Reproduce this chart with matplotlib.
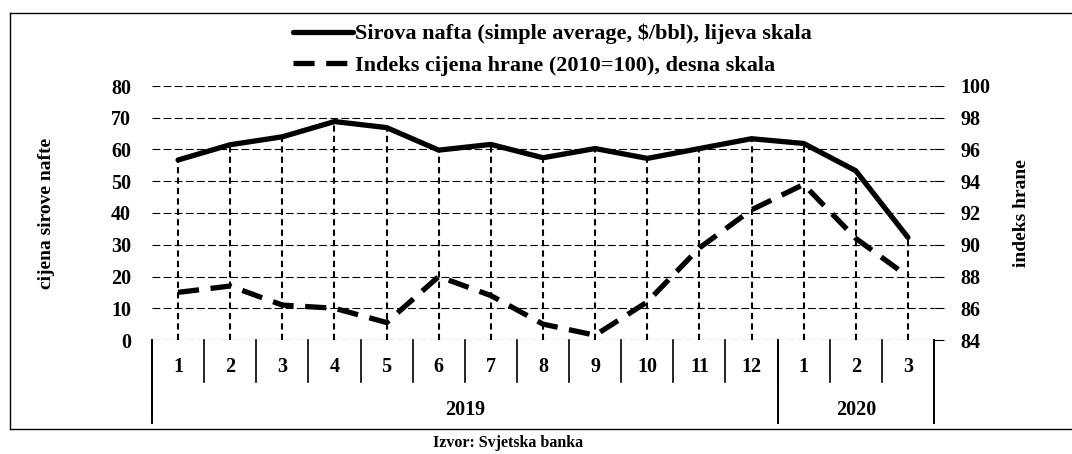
import matplotlib
matplotlib.use('Agg')
import matplotlib.pyplot as plt
from matplotlib.lines import Line2D

plt.rcParams['font.family'] = ['Liberation Serif', 'DejaVu Serif']

months = ['1', '2', '3', '4', '5', '6', '7', '8', '9', '10', '11', '12', '1', '2', '3']
years = ['2019', '2020']
year_len = [12, 3]

# crude oil, $/bbl (left scale)
oil = [56.7, 61.5, 64.0, 68.8, 66.9, 59.8, 61.6, 57.4, 60.3, 57.2, 60.3, 63.4, 61.9, 53.3, 32.3]
# food price index, 2010=100 (right scale)
food = [87.0, 87.4, 86.2, 86.0, 85.1, 88.0, 86.8, 85.0, 84.3, 86.4, 89.8, 92.2, 93.8, 90.4, 88.0]

oil_label = 'Sirova nafta (simple average, $/bbl), lijeva skala'
food_label = 'Indeks cijena hrane (2010=100), desna skala'

W, H = 1072, 454
fig = plt.figure(figsize=(W / 100, H / 100), dpi=100)
ax = fig.add_axes([152 / W, 1 - 340 / H, (934 - 152) / W, 254 / H])
ax2 = ax.twinx()

x = list(range(len(months)))
ax.set_xlim(-0.5, len(months) - 0.5)
ax.set_ylim(0, 80)
ax2.set_ylim(84, 100)
ax.set_yticks(range(0, 81, 10))
ax2.set_yticks(range(84, 101, 2))

grid_ls = (0, (7, 3))
for v in range(0, 81, 10):
    ax.axhline(v, color='black', lw=0.8, ls=grid_ls, zorder=1)

# drop lines from the oil points to the axis
ax.vlines(x, 0, oil, colors='black', lw=1.5, linestyles=(0, (3, 2)), zorder=2)

l1, = ax.plot(x, oil, color='black', lw=3.8, solid_capstyle='round', zorder=4)
l2, = ax2.plot(x, food, color='black', lw=3.8, ls=(0, (4, 2.2)), zorder=4)

for a in (ax, ax2):
    for s in a.spines.values():
        s.set_visible(False)
    a.set_xticks([])

tick_font = dict(fontsize=14.5, fontweight='bold')
ax.tick_params(axis='y', length=0, pad=15, labelsize=14.5)
ax2.tick_params(axis='y', length=7, width=0.8, pad=12, labelsize=14.5)
for t in ax.get_yticklabels() + ax2.get_yticklabels():
    t.set_fontweight('bold')

ax.set_ylabel('cijena sirove nafte', fontsize=14, fontweight='bold', labelpad=40)
ax2.set_ylabel('indeks hrane', fontsize=14, fontweight='bold', labelpad=16)

# category axis: months and years
tr = ax.get_xaxis_transform()
for i, m in enumerate(months):
    ax.text(i, -0.106, m, transform=tr, ha='center', va='center', **tick_font)
for i in range(1, len(months)):
    ax.plot([i - 0.5, i - 0.5], [0, -0.165], transform=tr, color='black',
            lw=1.2, clip_on=False)
start = 0
edges = [-0.5]
for y, n in zip(years, year_len):
    ax.text(start + n / 2 - 0.5, -0.276, y, transform=tr, ha='center', va='center', **tick_font)
    start += n
    edges.append(start - 0.5)
for e in edges:
    ax.plot([e, e], [0, -0.327], transform=tr, color='black', lw=1.4, clip_on=False)

fig.legend([l1, l2], [oil_label, food_label], loc='center left',
           bbox_to_anchor=(282 / W, 1 - 50 / H), frameon=False,
           prop=dict(size=16, weight='bold'),
           handlelength=2.7, handletextpad=0.1, labelspacing=0.5, borderpad=0)

fig.text(508 / W, 1 - 443 / H, 'Izvor: Svjetska banka', ha='center', va='center',
         fontsize=11.5, fontweight='bold')

# outer frame (left, top, bottom)
fig.add_artist(Line2D([10 / W, 10 / W], [1 - 13 / H, 1 - 429 / H], color='black', lw=1))
fig.add_artist(Line2D([10 / W, 1], [1 - 13 / H, 1 - 13 / H], color='black', lw=1))
fig.add_artist(Line2D([10 / W, 1], [1 - 429 / H, 1 - 429 / H], color='black', lw=1))

fig.savefig('out.png', dpi=100)
